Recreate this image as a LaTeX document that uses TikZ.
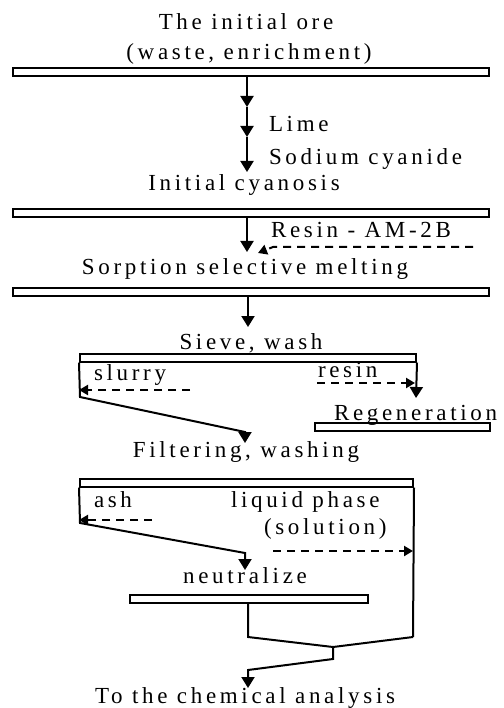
\documentclass[tikz,border=0pt]{standalone}
\usepackage{fontspec}
\setmainfont{Liberation Serif}[LetterSpace=16]
\usetikzlibrary{arrows.meta}
\tikzset{every picture/.style={line width=2pt}}
\tikzset{
  bar/.style={draw, minimum height=8pt, inner sep=0pt},
  lbl/.style={inner sep=0pt, font=\fontsize{23}{27}\selectfont},
  flow/.style={-{Triangle[width=13pt,length=11pt]}},
  dflow/.style={line width=2.6pt, dash pattern={on 8pt off 6pt}, -{Triangle[width=10pt,length=9pt]}}
}
\begin{document}
\begin{tikzpicture}[x=1pt,y=1pt,yscale=-1,xscale=1]
\useasboundingbox (0,0) rectangle (503,708);

% Text Node
\node [lbl, anchor=base] (oreText) at (246,30) {The initial ore};
% Text Node
\node [lbl, anchor=base] (wasteText) at (249,60) {(waste, enrichment)};
%Shape: Rectangle
\node [bar, minimum width=476pt] (oreBar) at (251,72) {};

% Text Node
\node [lbl, anchor=base west] (limeText) at (268,132) {Lime};
% Text Node
\node [lbl, anchor=base west] (sodiumText) at (268,165) {Sodium cyanide};
%Straight Lines
\coordinate (a1) at (247,107);
\coordinate (a2) at (247,137);
\coordinate (a3) at (247,172);
\draw [flow] (oreBar.south -| a1) -- (a1);
\draw [flow] (a1) -- (a2);
\draw [flow] (a2) -- (a3);

% Text Node
\node [lbl, anchor=base] (cyanText) at (244,191) {Initial cyanosis};
%Shape: Rectangle
\node [bar, minimum width=476pt] (cyanBar) at (251,213.5) {};
% Text Node
\node [lbl, anchor=base west] (amText) at (270,238) {Resin - AM-2B};
%Straight Lines
\coordinate (b1) at (247,252);
\draw [flow] (cyanBar.south -| b1) -- (b1);
%Straight Lines
\coordinate (r0) at (473,247);
\coordinate (r1) at (273,247);
\coordinate (r2) at (258,253);
\draw [dflow, line width=2pt] (r0) -- (r1) -- (r2);

% Text Node
\node [lbl, anchor=base] (sorpText) at (245,274) {Sorption selective melting};
%Shape: Rectangle
\node [bar, minimum width=476pt] (sorpBar) at (251,292) {};
%Straight Lines
\coordinate (s1) at (248,327);
\draw [flow] (sorpBar.south -| s1) -- (s1);

% Text Node
\node [lbl, anchor=base] (sieveText) at (251,349) {Sieve, wash};
%Shape: Rectangle
\node [bar, minimum width=336pt] (sieveBar) at (248,357.5) {};
% Text Node
\node [lbl, anchor=base west] (slurryText) at (93,380) {slurry};
% Text Node
\node [lbl, anchor=base west] (resinText) at (317,377) {resin};
%Straight Lines
\coordinate (rg1) at (416,398);
\draw [flow] (sieveBar.south east) -- (rg1);
%Straight Lines
\coordinate (sl0) at (80,397);
\coordinate (sl1) at (245,432);
\coordinate (f1) at (245,443);
\draw [flow] (sieveBar.south west) -- (sl0) -- (sl1) -- (f1);
%Straight Lines
\coordinate (sd0) at (190,390);
\draw [dflow] (sd0) -- (sd0 -| sieveBar.west);
%Straight Lines
\coordinate (rd0) at (317,383);
\draw [dflow, shorten >=2pt] (rd0) -- (rd0 -| sieveBar.east);

% Text Node
\node [lbl, anchor=base west] (regenText) at (333,420) {Regeneration};
%Shape: Rectangle
\node [bar, minimum width=175pt] (regenBar) at (402.5,427) {};

% Text Node
\node [lbl, anchor=base] (filterText) at (246,457) {Filtering, washing};
%Shape: Rectangle
\node [bar, minimum width=333pt] (filterBar) at (246.5,482.5) {};
% Text Node
\node [lbl, anchor=base west] (ashText) at (93,507) {ash};
% Text Node
\node [lbl, anchor=base west] (liquidText) at (230,507) {liquid phase};
% Text Node
\node [lbl, anchor=base west] (solText) at (263,534) {(solution)};
%Straight Lines
\coordinate (al0) at (80,523);
\coordinate (al1) at (245,553);
\coordinate (n1) at (245,570);
\draw [flow] (filterBar.south west) -- (al0) -- (al1) -- (n1);
%Straight Lines
\coordinate (ad0) at (152,520);
\draw [dflow] (ad0) -- (ad0 -| filterBar.west);
%Straight Lines
\coordinate (ld0) at (273,551);
\draw [dflow, shorten >=1pt] (ld0) -- (ld0 -| filterBar.east);
%Straight Lines
\coordinate (m0) at (413,637);
\draw (filterBar.south east) -- (m0);

% Text Node
\node [lbl, anchor=base] (neutText) at (245,583) {neutralize};
%Shape: Rectangle
\node [bar, minimum width=238pt] (neutBar) at (249,598.5) {};
%Straight Lines
\coordinate (nb) at (248,637);
\coordinate (j0) at (333,647);
\coordinate (j1) at (333,659);
\coordinate (j2) at (248,670);
\coordinate (ch) at (248,688);
\draw (neutBar.south -| nb) -- (nb) -- (j0);
\draw (m0) -- (j0);
\draw [flow] (j0) -- (j1) -- (j2) -- (ch);

% Text Node
\node [lbl, anchor=base] (chemText) at (245,703) {To the chemical analysis};

\end{tikzpicture}
\end{document}
